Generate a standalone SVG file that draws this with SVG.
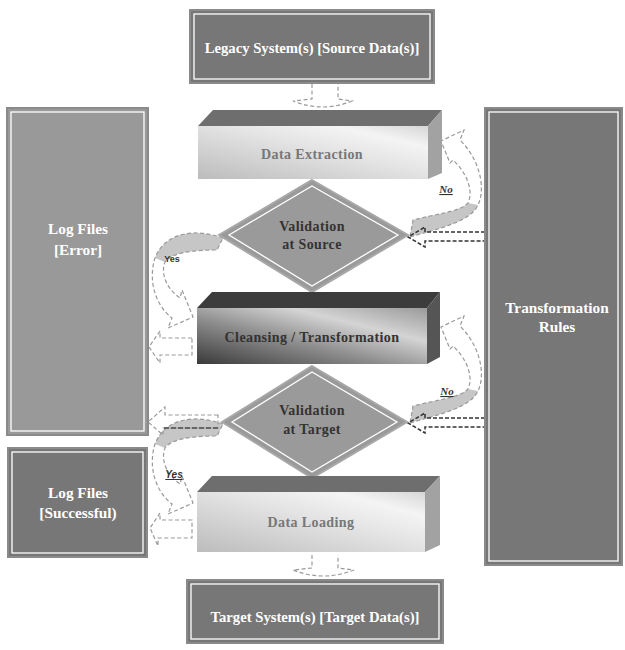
<svg xmlns="http://www.w3.org/2000/svg" width="625" height="650" viewBox="0 0 625 650">
<defs>
<linearGradient id="gLight" x1="0" y1="1" x2="1" y2="0">
<stop offset="0" stop-color="#bcbcbc"/>
<stop offset="0.55" stop-color="#e4e4e4"/>
<stop offset="0.8" stop-color="#f4f4f4"/>
<stop offset="1" stop-color="#d6d6d6"/>
</linearGradient>
<linearGradient id="gDark" x1="0" y1="1" x2="1" y2="0">
<stop offset="0" stop-color="#3a3a3a"/>
<stop offset="0.4" stop-color="#8c8c8c"/>
<stop offset="0.7" stop-color="#d4d4d4"/>
<stop offset="1" stop-color="#9a9a9a"/>
</linearGradient>
<style>
.box{stroke:#8a8a8a;stroke-width:2}
.inner{fill:none;stroke:#fff;stroke-width:1.3}
.lt{font-family:"Liberation Serif",serif;font-weight:bold;font-size:14.7px;fill:#fff;text-anchor:middle}
.big{font-size:15.3px}
.dk{font-family:"Liberation Serif",serif;font-weight:bold;font-size:14px;fill:#333;text-anchor:middle;letter-spacing:0.4px}
.gy{fill:#777}
.dash{fill:none;stroke:#9a9a9a;stroke-width:1.2;stroke-dasharray:4 2.5}
.ddash{fill:none;stroke:#333;stroke-width:1.5;stroke-dasharray:4 2}
.fillg{fill:#c6c6c6}
.lbl{font-family:"Liberation Serif",serif;font-weight:bold;font-style:italic;font-size:11px;fill:#333;text-anchor:middle;text-decoration:underline}
.yes{font-family:"Liberation Sans",Arial,sans-serif;font-weight:bold;font-size:9px;fill:#333;text-anchor:middle}
</style>
</defs>
<rect width="625" height="650" fill="#fff"/>

<g id="connectors">
<path class="dash" d="M312,84 L312,99 L293,101 Q323,113 352,101 L338,99 L338,84"/>
<path class="dash" d="M312,555 L312,568 L293,570 Q323,582 354,570 L338,568 L338,555"/>
<g>
<path class="fillg" d="M410,237 C440,228 470,222 478,205 L468,203 C460,212 435,214 413,220 Z"/>
<path class="dash" d="M410,237 C440,228 470,222 478,205 C486,188 480,160 460,140 L464,130 L441,141 L450,163 L453,160 C466,172 474,190 468,203 C460,212 435,214 413,220 Z"/>
</g>
<g transform="translate(0,186)">
<path class="fillg" d="M410,237 C440,228 470,222 478,205 L468,203 C460,212 435,214 413,220 Z"/>
<path class="dash" d="M410,237 C440,228 470,222 478,205 C486,188 480,160 460,140 L464,130 L441,141 L450,163 L453,160 C466,172 474,190 468,203 C460,212 435,214 413,220 Z"/>
</g>
<g>
<path class="fillg" d="M223,238 C195,228 165,232 155,258 L165,262 C172,252 195,250 217,250 Z"/>
<path class="dash" d="M223,238 C195,228 165,232 155,258 C148,280 155,305 172,318 L168,328 L193,317 L182,290 L180,298 C168,290 160,275 165,262 C172,252 195,250 217,250 Z"/>
</g>
<g transform="translate(0,186)">
<path class="fillg" d="M223,238 C195,228 165,232 155,258 L165,262 C172,252 195,250 217,250 Z"/>
<path class="dash" d="M223,238 C195,228 165,232 155,258 C148,280 155,305 172,318 L168,328 L193,317 L182,290 L180,298 C168,290 160,275 165,262 C172,252 195,250 217,250 Z"/>
</g>
<path class="dash" d="M192,338 L160,338 L160,331 L149,347 L160,363 L160,355 L192,355 Z"/>
<path class="dash" d="M218,415 L165,415 L165,407 L148,422 L163,435 L163,428 L218,428 Z"/>
<path fill="none" stroke="#666" stroke-width="1.8" stroke-dasharray="5 2" d="M218,428 L163,428"/>
<path class="dash" d="M192,520 L160,520 L160,513 L150,528 L158,546 L158,538 L192,538 Z"/>
<path class="ddash" d="M485,232 L425,232 L425,227 L408,237 L425,247 L425,241 L485,241"/>
<path class="ddash" d="M485,418 L425,418 L425,413 L408,423 L425,433 L425,427 L485,427"/>
<text class="lbl" x="446" y="193">No</text>
<text class="lbl" x="447" y="395">No</text>
<text class="yes" x="172" y="262">Yes</text>
<text class="lbl" x="174" y="478" style="font-family:'Liberation Sans',Arial,sans-serif;font-size:10px">Yes</text>
</g>

<g id="legacy">
<rect class="box" x="190" y="10" width="244" height="73" fill="#777"/>
<rect class="inner" x="194" y="14" width="236" height="65"/>
<text class="lt" x="312" y="53">Legacy System(s) [Source Data(s)]</text>
</g>

<g id="log-error">
<rect class="box" x="7" y="108" width="141" height="327" fill="#999" stroke="#a8a8a8"/>
<rect class="inner" x="11" y="112" width="133" height="319"/>
<text class="lt big" x="78" y="234">Log Files</text>
<text class="lt big" x="78" y="255">[Error]</text>
</g>

<g id="log-success">
<rect class="box" x="8" y="448" width="139" height="109" fill="#777"/>
<rect class="inner" x="12" y="452" width="131" height="101"/>
<text class="lt big" x="78" y="498">Log Files</text>
<text class="lt big" x="78" y="518">[Successful)</text>
</g>

<g id="transformation-rules">
<rect class="box" x="485" y="108" width="137" height="457" fill="#777"/>
<rect class="inner" x="489" y="112" width="129" height="449"/>
<text class="lt big" x="557" y="313">Transformation</text>
<text class="lt big" x="557" y="332">Rules</text>
</g>

<g id="data-extraction">
<polygon points="198,126 213,110 442,110 428,126" fill="#6e6e6e"/>
<polygon points="428,126 442,110 442,173 428,179" fill="#a2a2a2"/>
<rect x="198" y="126" width="230" height="53" fill="url(#gLight)"/>
<text class="dk gy" x="312" y="159">Data Extraction</text>
</g>

<g id="validation-source">
<polygon points="312,180 408,235 312,292 219,235" fill="#9a9a9a" stroke="#a8a8a8" stroke-width="2"/>
<polygon points="312,186 398,235 312,286 229,235" class="inner"/>
<text class="dk" x="312" y="231">Validation</text>
<text class="dk" x="312" y="249">at Source</text>
</g>

<g id="cleansing">
<polygon points="197,308 212,292 440,292 427,308" fill="#3c3c3c"/>
<polygon points="427,308 440,292 440,357 427,364" fill="#555"/>
<rect x="197" y="308" width="230" height="56" fill="url(#gDark)"/>
<text class="dk" x="312" y="342">Cleansing / Transformation</text>
</g>

<g id="validation-target">
<polygon points="312,366 407,422 312,478 222,422" fill="#9a9a9a" stroke="#a8a8a8" stroke-width="2"/>
<polygon points="312,372 397,422 312,472 232,422" class="inner"/>
<text class="dk" x="312" y="415">Validation</text>
<text class="dk" x="312" y="434">at Target</text>
</g>

<g id="data-loading">
<polygon points="197,492 212,476 440,476 425,492" fill="#6e6e6e"/>
<polygon points="425,492 440,476 440,545 425,552" fill="#a2a2a2"/>
<rect x="197" y="492" width="228" height="60" fill="url(#gLight)"/>
<text class="dk gy" x="311" y="527">Data Loading</text>
</g>

<g id="target">
<rect class="box" x="187" y="580" width="256" height="63" fill="#777"/>
<rect class="inner" x="191" y="584" width="248" height="55"/>
<text class="lt" x="315" y="622">Target System(s) [Target Data(s)]</text>
</g>
</svg>
